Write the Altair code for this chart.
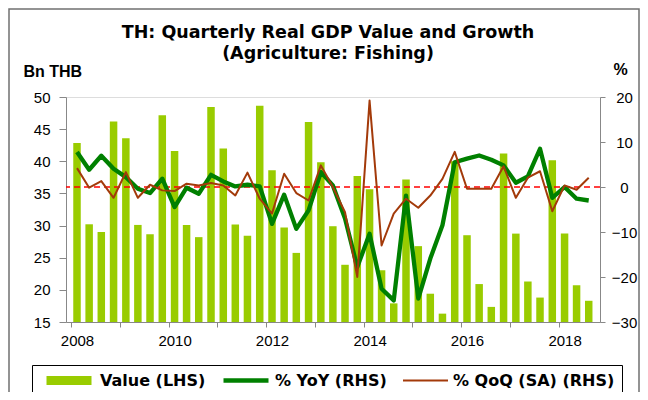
import altair as alt
import pandas as pd

# ---- data (quarterly, 2008Q1 .. 2018Q3) ----
quarter_starts = pd.date_range("2008-01-01", periods=43, freq="QS")

value_bn_thb = [42.85, 30.2, 29.0, 46.2, 43.6, 30.1, 28.65, 47.15, 41.6, 30.1, 28.2, 48.45,
                42.0, 30.15, 28.4, 48.65, 38.6, 29.7, 25.75, 46.1, 39.85, 29.9, 23.9,
                37.7, 35.65, 23.05, 17.9, 37.15, 26.8, 19.4, 16.3, 40.0, 28.5, 20.9,
                17.35, 41.2, 28.75, 21.3, 18.8, 40.15, 28.75, 20.7, 18.3]

yoy_pct = [7.76, 3.84, 6.95, 4.06, 2.2, -0.4, -1.35, 1.84, -4.46, -0.16, -1.5, 2.7,
           1.24, 0.13, 0.5, 0.13, -8.2, -1.7, -9.3, -5.2, 3.3, 0.35, -7.0,
           -17.8, -10.4, -22.6, -25.2, -1.9, -24.8, -15.9, -8.5, 5.5, 6.3, 7.0,
           6.06, 4.8, 0.95, 2.36, 8.5, -2.4, 0.0, -2.6, -3.0]

qoq_pct = [4.2, -0.16, 1.3, -2.4, 3.3, -2.4, 0.5, -0.75, -0.9, 0.73, 0.35, 0.87,
           0.35, -1.87, 3.2, -2.6, -5.9, 2.95, -1.35, -3.0, 4.8, 0.0, -5.6,
           -20.0, 19.2, -13.0, -5.9, -2.6, -4.6, -1.9, 1.8, 7.8, -0.4, -0.4,
           -0.4, 4.6, -2.4, 2.06, 3.5, -5.4, 0.35, -0.6, 2.06]

series_names = ["Value (LHS)", "% YoY (RHS)", "% QoQ (SA) (RHS)"]
series_colors = ["#99CC00", "#008000", "#A33A0A"]
series_widths = [9, 4.3, 2]

left_ticks = [15, 20, 25, 30, 35, 40, 45, 50]
right_ticks = [-30, -20, -10, 0, 10, 20]
zero_line = [0]

FONT = "DejaVu Sans"

mid = quarter_starts + pd.Timedelta(days=45)
df = pd.DataFrame({"date": mid, "value": value_bn_thb})
df_yoy = pd.DataFrame({"date": mid, "pct": yoy_pct, "series": series_names[1]})
df_qoq = pd.DataFrame({"date": mid, "pct": qoq_pct, "series": series_names[2]})
df_zero = pd.DataFrame({"z": zero_line})

x_enc = alt.X(
    "date:T",
    scale=alt.Scale(domain=[alt.DateTime(year=2008, month=1, date=1),
                            alt.DateTime(year=2018, month=10, date=1)]),
    axis=alt.Axis(
        values=[alt.DateTime(year=y, month=1, date=1) for y in range(2008, 2019)],
        labelExpr="year(datum.value) % 2 == 0 ? timeFormat(datum.value, '%Y') : ''",
        title=None, grid=False, tickSize=5, labelPadding=6, labelOffset=6,
        labelFlush=False, labelOverlap=False, labelFontSize=15,
    ),
)

left_axis = alt.Axis(
    orient="left", values=left_ticks, grid=False, tickSize=7, labelPadding=9,
    labelFontSize=15, title="Bn THB", titleAngle=0, titleAlign="left",
    titleBaseline="alphabetic", titleX=-43, titleY=-21, titleFontSize=16,
    titleFontWeight="bold",
)
right_axis = alt.Axis(
    orient="right", values=right_ticks, grid=False, tickSize=5, labelPadding=19,
    labelAlign="center", labelFontSize=15, title="%", titleAngle=0, titleAlign="center",
    titleBaseline="alphabetic", titleX=20, titleY=-23, titleFontSize=16,
    titleFontWeight="bold",
)
right_scale = alt.Scale(domain=[-30, 20], nice=False, zero=False)

legend = alt.Legend(
    title=" ", titleOrient="left", titlePadding=3, titleFontSize=16,
    orient="none", legendX=-34, legendY=268, direction="horizontal",
    symbolType="stroke", symbolSize=2025, clipHeight=17, labelFontSize=16,
    labelFontWeight="bold", labelFont=FONT, labelColor="black", labelLimit=400,
    strokeColor="black", padding=7, columnPadding=15, labelOffset=4,
)
stroke_enc = alt.Stroke("series:N", scale=alt.Scale(domain=series_names, range=series_colors),
                        legend=legend)
width_enc = alt.StrokeWidth("series:N",
                            scale=alt.Scale(type="ordinal", domain=series_names, range=series_widths),
                            legend=legend)

frame = alt.Chart(df_zero).mark_rect(fill=None, stroke="#707070", strokeWidth=1.5, clip=False).encode(
    x=alt.value(-57), x2=alt.value(573), y=alt.value(-88), y2=alt.value(320),
)

bars = alt.Chart(df).mark_bar(size=7.5, color=series_colors[0], clip=True).encode(
    x=x_enc,
    y=alt.Y("value:Q", scale=alt.Scale(domain=[15, 50], zero=False, nice=False), axis=left_axis),
    y2=alt.datum(15),
)

rule = alt.Chart(df_zero).mark_rule(color="#FF0000", strokeDash=[6, 4], strokeWidth=1.6).encode(
    y=alt.Y("z:Q", scale=right_scale, axis=right_axis),
)

yoy_line = alt.Chart(df_yoy).mark_line(strokeJoin="round").encode(
    x=x_enc, y=alt.Y("pct:Q", scale=right_scale, axis=right_axis),
    stroke=stroke_enc, strokeWidth=width_enc,
)
qoq_line = alt.Chart(df_qoq).mark_line(strokeJoin="round").encode(
    x=x_enc, y=alt.Y("pct:Q", scale=right_scale, axis=right_axis),
    stroke=stroke_enc, strokeWidth=width_enc,
)

right_layer = alt.layer(rule, yoy_line, qoq_line)

chart = alt.layer(frame, bars, right_layer).resolve_scale(y="independent").properties(
    width=534, height=225,
    autosize=alt.AutoSizeParams(type="none"),
    padding={"left": 58, "top": 89, "right": 40, "bottom": 70},
    title=alt.TitleParams(
        text=["TH: Quarterly Real GDP Value and Growth", "(Agriculture: Fishing)"],
        fontSize=17.5, fontWeight="bold", font=FONT, color="black",
        anchor="middle", frame="group", lineHeight=21, offset=2, dx=-5, dy=56,
    ),
).configure_view(stroke=None).configure_axis(
    domainColor="black", tickColor="black", labelColor="black", titleColor="black",
    labelFont=FONT, titleFont=FONT, domainWidth=1, tickWidth=1,
).configure(background="white")

chart.save("out.html", embed_options={"renderer": "svg", "actions": False})
